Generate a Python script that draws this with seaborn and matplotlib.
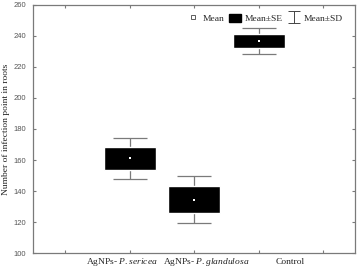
import matplotlib
matplotlib.use("Agg")
import matplotlib.pyplot as plt
import numpy as np
import pandas as pd
import seaborn as sns
from matplotlib.patches import Patch
from matplotlib.lines import Line2D
from matplotlib.path import Path

# values
categories = ["AgNPs- $\\it{P. sericea}$", "AgNPs- $\\it{P. glandulosa}$", "Control"]
means = [161.0, 134.5, 236.5]
se = [7.5, 8.5, 4.6]
sd = [13.3, 15.0, 8.3]

df = pd.DataFrame({"group": categories, "mean": means, "se": se, "sd": sd})
df["pos"] = np.arange(len(df)) + 1

sns.set_style("ticks")
plt.rcParams["font.family"] = ["Liberation Serif", "DejaVu Serif"]
plt.rcParams["mathtext.fontset"] = "custom"
plt.rcParams["mathtext.it"] = "Liberation Serif:italic"
plt.rcParams["mathtext.rm"] = "Liberation Serif"

fig = plt.figure(figsize=(3.58, 2.71), dpi=100)
ax = fig.add_axes([0.092, 0.066, 0.901, 0.916])

frame = "#7a7a7a"

# mean +/- SD whiskers
ax.errorbar(df["pos"], df["mean"], yerr=df["sd"], fmt="none",
            ecolor=frame, elinewidth=0.9, capsize=12.5, capthick=0.9, zorder=1)
# mean +/- SE boxes
ax.bar(df["pos"], 2 * df["se"], bottom=df["mean"] - df["se"], width=0.8,
       color="black", zorder=2)
# means
sns.scatterplot(data=df, x="pos", y="mean", marker="s", color="white",
                s=4, linewidth=0, ax=ax, zorder=3)

ax.set_xlim(-0.5, 4.5)
ax.set_ylim(100, 260)
ax.set_yticks(np.arange(100, 261, 20))
ax.set_xticks(np.arange(0, 5))
ax.set_xticklabels([])
ax.set_xlabel("")
ax.set_ylabel("Number of infection point in roots", fontsize=6.8,
              color="#222222")
ax.yaxis.set_label_coords(-0.072, 0.5)

for lab in ax.get_yticklabels():
    lab.set_family("Liberation Sans")
    lab.set_fontsize(5.5)
    lab.set_color("#555555")

ax.tick_params(direction="in", length=2.5, width=0.8, color=frame,
               top=True, right=True, pad=5)
for sp in ax.spines.values():
    sp.set_color(frame)
    sp.set_linewidth(0.9)

label_x = [0.276, 0.536, 0.799]
for x, txt in zip(label_x, categories):
    ax.text(x, -0.036, txt, transform=ax.transAxes, ha="center", va="center",
            fontsize=6.8, color="#222222")

# whisker-like legend symbol
sd_path = Path([(-1, 1), (1, 1), (0, 1), (0, -1), (-1, -1), (1, -1)],
               [Path.MOVETO, Path.LINETO, Path.MOVETO, Path.LINETO,
                Path.MOVETO, Path.LINETO])
handles = [
    Line2D([], [], marker="s", linestyle="none", markerfacecolor="white",
           markeredgecolor="#444444", markersize=2.8, markeredgewidth=0.6),
    Patch(facecolor="black", edgecolor="black"),
    Line2D([], [], marker=sd_path, linestyle="none", markersize=9,
           markerfacecolor="none", markeredgecolor="#444444",
           markeredgewidth=0.7),
]
ax.legend(handles, ["Mean", "Mean\u00b1SE", "Mean\u00b1SD"], ncol=3,
          loc="upper right", bbox_to_anchor=(0.985, 0.995), frameon=False,
          fontsize=6.8, handlelength=1.3, handleheight=0.9, handletextpad=0.4,
          columnspacing=0.5, borderaxespad=0.4)

fig.savefig("out.png", dpi=100)
